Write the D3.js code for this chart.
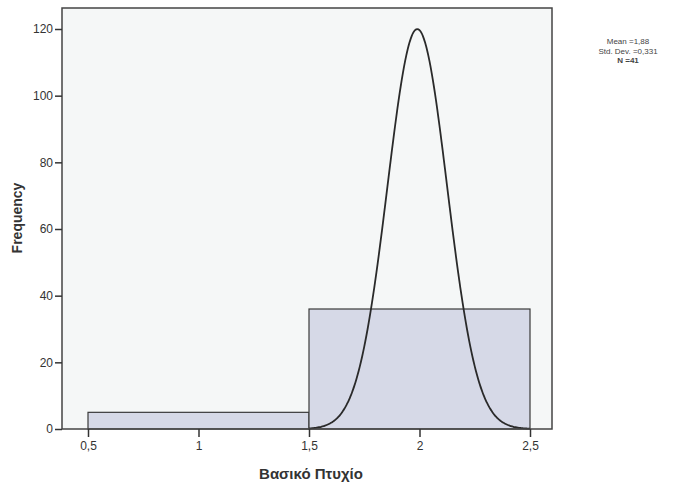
<!DOCTYPE html>
<html>
<head>
<meta charset="utf-8">
<script src="https://cdn.jsdelivr.net/npm/d3@7"></script>
<style>
  body { margin: 0; background: #fff; }
  svg { font-family: Arial, "Liberation Sans", sans-serif; }
</style>
</head>
<body>
<div id="chart"></div>
<script>
// histogram bins (lower edge, upper edge, count)
const binStart = [0.5, 1.5]
const binEnd = [1.5, 2.5]
const binCount = [5, 36]

const xTicks = [0.5, 1, 1.5, 2, 2.5]
const yTicks = [0, 20, 40, 60, 80, 100, 120]

// normal curve as drawn in the picture
const curveCenter = 1.99
const curveSigma = 0.135
const curvePeak = 120

const statLines = ['Mean =1,88', 'Std. Dev. =0,331', 'N =41']

const widthD3 = 690
const heightD3 = 492
const frame = { left: 62, right: 552, top: 8, bottom: 429 }

const svg = d3.select('#chart').append('svg')
    .attr('width', widthD3)
    .attr('height', heightD3)

const locale = d3.formatLocale({ decimal: ',', thousands: '.', grouping: [3], currency: ['', '€'] })
const fmt = (d) => locale.format('~g')(d)

// 0.5 sits near 88px and 2.5 near 530px
const xScale = d3.scaleLinear()
    .domain([0.5 - 26 / 221, 2.5 + 22 / 221])
    .range([frame.left, frame.right])

const yScale = d3.scaleLinear()
    .domain([0, 120 * (frame.bottom - frame.top) / 400])
    .range([frame.bottom, frame.top])

// plot background
svg.append('rect')
    .attr('x', frame.left)
    .attr('y', frame.top)
    .attr('width', frame.right - frame.left)
    .attr('height', frame.bottom - frame.top)
    .attr('fill', '#f5f7f7')

// bars
const bins = binCount.map((c, i) => ({ x0: binStart[i], x1: binEnd[i], count: c }))
svg.append('g')
    .selectAll('rect')
    .data(bins)
    .enter()
    .append('rect')
    .attr('x', (d) => xScale(d.x0))
    .attr('y', (d) => yScale(d.count))
    .attr('width', (d) => xScale(d.x1) - xScale(d.x0))
    .attr('height', (d) => yScale(0) - yScale(d.count))
    .attr('fill', '#d6d9e7')
    .attr('stroke', '#3a3a3a')
    .attr('stroke-width', 1.2)

// normal curve
const curveX = d3.range(1.5, 2.501, 0.005)
const line = d3.line()
    .x((d) => xScale(d))
    .y((d) => yScale(curvePeak * Math.exp(-((d - curveCenter) ** 2) / (2 * curveSigma ** 2))))
    .curve(d3.curveBasis)

svg.append('path')
    .datum(curveX)
    .attr('d', line)
    .attr('fill', 'none')
    .attr('stroke', '#2a2a2a')
    .attr('stroke-width', 1.8)

// frame
svg.append('rect')
    .attr('x', frame.left)
    .attr('y', frame.top)
    .attr('width', frame.right - frame.left)
    .attr('height', frame.bottom - frame.top)
    .attr('fill', 'none')
    .attr('stroke', '#444')
    .attr('stroke-width', 1.5)

// axes
const xAxis = d3.axisBottom(xScale)
    .tickValues(xTicks)
    .tickSize(8)
    .tickSizeOuter(0)
    .tickPadding(4)
    .tickFormat(fmt)

const yAxis = d3.axisLeft(yScale)
    .tickValues(yTicks)
    .tickSize(7)
    .tickSizeOuter(0)
    .tickPadding(2)
    .tickFormat(fmt)

const gx = svg.append('g')
    .attr('transform', `translate(0, ${frame.bottom})`)
    .call(xAxis)

const gy = svg.append('g')
    .attr('transform', `translate(${frame.left}, 0)`)
    .call(yAxis)

gx.select('.domain').remove()
gy.select('.domain').remove()
svg.selectAll('.tick line').attr('stroke', '#333').attr('stroke-width', 1.5)
svg.selectAll('.tick text')
    .attr('fill', '#333')
    .attr('font-size', 12)

// axis titles
svg.append('text')
    .text('Βασικό Πτυχίο')
    .attr('x', 311)
    .attr('y', 479)
    .attr('text-anchor', 'middle')
    .attr('font-size', 15)
    .attr('font-weight', 'bold')
    .attr('fill', '#333')

svg.append('text')
    .text('Frequency')
    .attr('transform', 'translate(22, 218) rotate(-90)')
    .attr('text-anchor', 'middle')
    .attr('font-size', 14)
    .attr('font-weight', 'bold')
    .attr('fill', '#333')

// stats box
svg.append('g')
    .selectAll('text')
    .data(statLines)
    .enter()
    .append('text')
    .text((d) => d)
    .attr('x', 628)
    .attr('y', (d, i) => 44 + i * 9.5)
    .attr('text-anchor', 'middle')
    .attr('font-size', 8)
    .attr('font-weight', (d, i) => i === 2 ? 'bold' : 'normal')
    .attr('fill', '#444')
</script>
</body>
</html>
